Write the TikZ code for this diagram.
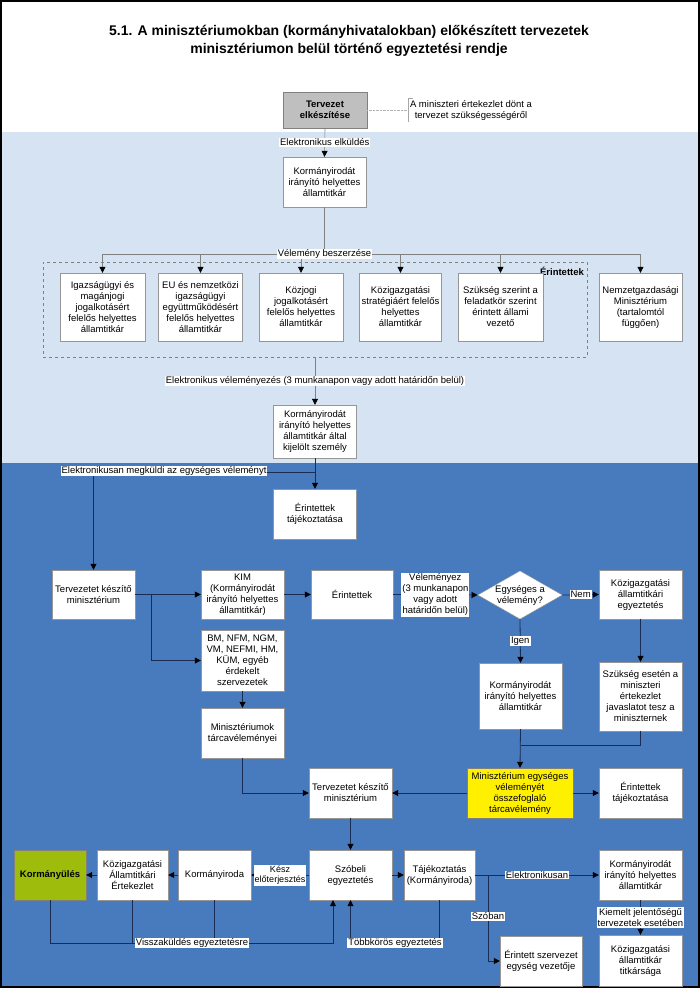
\documentclass[tikz,border=0pt]{standalone}
\usepackage{fontspec}
\setmainfont{Liberation Sans}
\usetikzlibrary{arrows.meta,shapes.geometric}
\definecolor{lightband}{RGB}{214,227,242}
\definecolor{darkband}{RGB}{72,122,190}
\definecolor{navyline}{RGB}{24,44,84}
\definecolor{boxedge}{RGB}{150,150,150}
\definecolor{tarcayellow}{RGB}{255,240,0}
\definecolor{ulesgreen}{RGB}{158,188,12}

\begin{document}
\begin{tikzpicture}[x=1pt,y=-1pt,>={Triangle[length=6pt,width=6pt,black]},
  box/.style={draw=boxedge,fill=white,align=center,font=\fontsize{9.5}{11}\selectfont,inner sep=1pt,minimum width=83pt,minimum height=50pt},
  lbl/.style={fill=white,inner sep=1pt,align=center,font=\fontsize{9.5}{11}\selectfont},
  ln/.style={draw=navyline,line width=.8pt},
  lnl/.style={draw=gray,line width=.6pt}]
\useasboundingbox (0,0) rectangle (700,988);
% hatter
\fill[lightband] (0,132) rectangle (700,463);
\fill[darkband] (0,463) rectangle (700,988);
\draw[line width=2pt] (1,1) rectangle (699,987);

\node (title) [align=center,font=\bfseries\fontsize{14}{18}\selectfont] at (349,41) {5.1. A minisztériumokban (kormányhivatalokban) előkészített tervezetek\\minisztériumon belül történő egyeztetési rendje};

% felso resz
\node (terv) [box,fill=gray!50,draw=gray,font=\bfseries\fontsize{9.5}{11}\selectfont,minimum width=84pt,minimum height=36pt] at (325,110) {Tervezet\\elkészítése};
\node (note) [align=center,font=\fontsize{9.5}{11}\selectfont,inner sep=2pt] at (471,110) {A miniszteri értekezlet dönt a\\tervezet szükségességéről};
\draw[gray!70] ([xshift=5pt]note.north west) -- (note.north west) -- (note.south west);
\draw[gray!60,densely dotted] (terv.east) -- (note.west);

\node (kih1) [box] at (324.5,182) {Kormányirodát\\irányító helyettes\\államtitkár};
\draw[lnl,->] (terv.south) -- node[lbl] (lelk) {Elektronikus elküldés} (kih1.north);

\node (grp) [draw=gray,dashed,minimum width=544pt,minimum height=95pt,inner sep=0pt] at (315,309.5) {};
\node (lert) [font=\bfseries\fontsize{9.5}{11}\selectfont] at (562,271) {Érintettek};
\node (e1) [box,minimum width=85pt,minimum height=68pt] at (102.5,307) {Igazságügyi és\\magánjogi\\jogalkotásért\\felelős helyettes\\államtitkár};
\node (e2) [box,minimum width=84pt,minimum height=68pt] at (200.5,307) {EU és nemzetközi\\igazságügyi\\együttműködésért\\felelős helyettes\\államtitkár};
\node (e3) [box,minimum width=84pt,minimum height=68pt] at (301,307) {Közjogi\\jogalkotásért\\felelős helyettes\\államtitkár};
\node (e4) [box,minimum width=82pt,minimum height=68pt] at (400.5,307) {Közigazgatási\\stratégiáért felelős\\helyettes\\államtitkár};
\node (e5) [box,minimum width=85pt,minimum height=68pt] at (500.5,307) {Szükség szerint a\\feladatkör szerint\\érintett állami\\vezető};
\node (e6) [box,minimum width=83pt,minimum height=68pt] at (640.5,307) {Nemzetgazdasági\\Minisztérium\\(tartalomtól\\függően)};

\coordinate (bus) at (324.5,254);
\draw[lnl] (kih1.south) -- (bus);
\foreach \n in {e1,e2,e3,e4,e5,e6}
  \draw[lnl,->] (bus) -| (\n.north);
\node[lbl] (lvel) at (bus) {Vélemény beszerzése};

\node (kih2) [box,minimum height=53pt] at (315,431.5) {Kormányirodát\\irányító helyettes\\államtitkár által\\kijelölt személy};
\draw[lnl,->] (grp.south) -- node[lbl] (lelv) {Elektronikus véleményezés (3 munkanapon vagy adott határidőn belül)} (kih2.north);

% also resz
\node (et1) [box] at (315,514) {Érintettek\\tájékoztatása};
\node (tk1) [box,minimum height=49pt] at (93.5,594.5) {Tervezetet készítő\\minisztérium};
\node (kim) [box,minimum height=49pt] at (242.5,594.5) {KIM\\(Kormányirodát\\irányító helyettes\\államtitkár)};
\node (er) [box,minimum width=82pt,minimum height=49pt] at (352,594.5) {Érintettek};
\node (dia) [diamond,draw=boxedge,fill=white,align=center,font=\fontsize{9.5}{11}\selectfont,inner sep=0pt,shape aspect=1.75,minimum width=83pt,minimum height=48pt] at (520,595) {Egységes a\\vélemény?};
\node (kae) [box,minimum height=49pt] at (640.5,594.5) {Közigazgatási\\államtitkári\\egyeztetés};
\node (bm) [box,minimum height=61pt] at (242.5,660.5) {BM, NFM, NGM,\\VM, NEFMI, HM,\\KÜM, egyéb\\érdekelt\\szervezetek};
\node (mt) [box] at (242.5,733) {Minisztériumok\\tárcavéleményei};
\node (kih3) [box,minimum height=66pt] at (520.5,696) {Kormányirodát\\irányító helyettes\\államtitkár};
\node (sz) [box,minimum height=69pt] at (640.5,696.5) {Szükség esetén a\\miniszteri\\értekezlet\\javaslatot tesz a\\miniszternek};
\node (yel) [box,fill=tarcayellow,draw=gray,minimum width=106pt] at (520,793) {Minisztérium egységes\\véleményét\\összefoglaló\\tárcavélemény};
\node (et2) [box] at (640.5,793) {Érintettek\\tájékoztatása};
\node (tk2) [box] at (350.5,793) {Tervezetet készítő\\minisztérium};

\node (kul) [box,fill=ulesgreen,draw=gray,font=\bfseries\fontsize{9.5}{11}\selectfont,minimum width=72pt] at (50,875) {Kormányülés};
\node (kae2) [box,minimum width=71pt] at (132.5,875) {Közigazgatási\\Államtitkári\\Értekezlet};
\node (kir) [box,minimum width=73pt] at (214.5,875) {Kormányiroda};
\node (szo) [box] at (350.5,875) {Szóbeli\\egyeztetés};
\node (taj) [box,minimum width=71pt] at (439.5,875) {Tájékoztatás\\(Kormányiroda)};
\node (kih4) [box] at (640.5,875) {Kormányirodát\\irányító helyettes\\államtitkár};
\node (esz) [box,minimum width=82pt] at (541,961) {Érintett szervezet\\egység vezetője};
\node (kt) [box,minimum height=51pt] at (640.5,960.5) {Közigazgatási\\államtitkár\\titkársága};

\coordinate (j1) at (315,472);
\draw[ln] (kih2.south) -- (j1);
\draw[ln,->] (j1) -- (et1.north);
\draw[ln,->] (j1) -| (tk1.north);
\node[lbl] (lmeg) at (164,471) {Elektronikusan megküldi az egységes véleményt};

\draw[ln,->] (tk1.east) -- (kim.west);
\coordinate (br1) at (151,594.5);
\draw[ln,->] (br1) |- (bm.west);
\draw[ln,->] (kim.east) -- (er.west);
\draw[ln,->] (er.east) -- node[lbl] (lvz) {Véleményez\\(3 munkanapon\\vagy adott\\határidőn belül)} (dia.west);
\draw[ln,->] (dia.east) -- node[lbl] (lnem) {Nem} (kae.west);
\draw[ln,->] (dia.south) -- node[lbl] (ligen) {Igen} (kih3.north);
\draw[ln,->] (kae.south) -- (sz.north);
\draw[ln,->] (kih3.south) -- (yel.north);
\coordinate (j2) at (520.5,745);
\draw[ln] (sz.south) |- (j2);
\draw[ln,->] (bm.south) -- (mt.north);
\draw[ln,->] (mt.south) |- (tk2.west);
\draw[ln,->] (yel.west) -- (tk2.east);
\draw[ln,->] (yel.east) -- (et2.west);
\draw[ln,->] (tk2.south) -- (szo.north);

\draw[ln,->] (szo.west) -- node[lbl,font=\fontsize{9}{10.5}\selectfont] (lkesz) {Kész\\előterjesztés} (kir.east);
\draw[ln,->] (kir.west) -- (kae2.east);
\draw[ln,->] (kae2.west) -- (kul.east);
\draw[ln,->] (szo.east) -- (taj.west);
\draw[ln,->] (taj.east) -- node[lbl] (lelek) {Elektronikusan} (kih4.west);
\coordinate (br2) at (488,875);
\draw[ln,->] (br2) |- node[lbl,pos=.24] (lszo) {Szóban} (esz.west);
\draw[ln,->] (kih4.south) -- node[lbl] (lkiem) {Kiemelt jelentőségű\\tervezetek esetében} (kt.north);

\coordinate (vk) at (333,943);
\draw[ln,->] (kul.south) |- (vk) -- (vk |- szo.south);
\draw[ln] (kae2.south) -- (kae2.south |- vk);
\draw[ln] (kir.south) -- (kir.south |- vk);
\node[lbl] (lvissza) at (192,943) {Visszaküldés egyeztetésre};
\coordinate (tkor) at (350.5,943);
\draw[ln,->] (taj.south) |- (tkor) -- (szo.south);
\node[lbl] (ltobb) at (395,943) {Többkörös egyeztetés};
\end{tikzpicture}
\end{document}
